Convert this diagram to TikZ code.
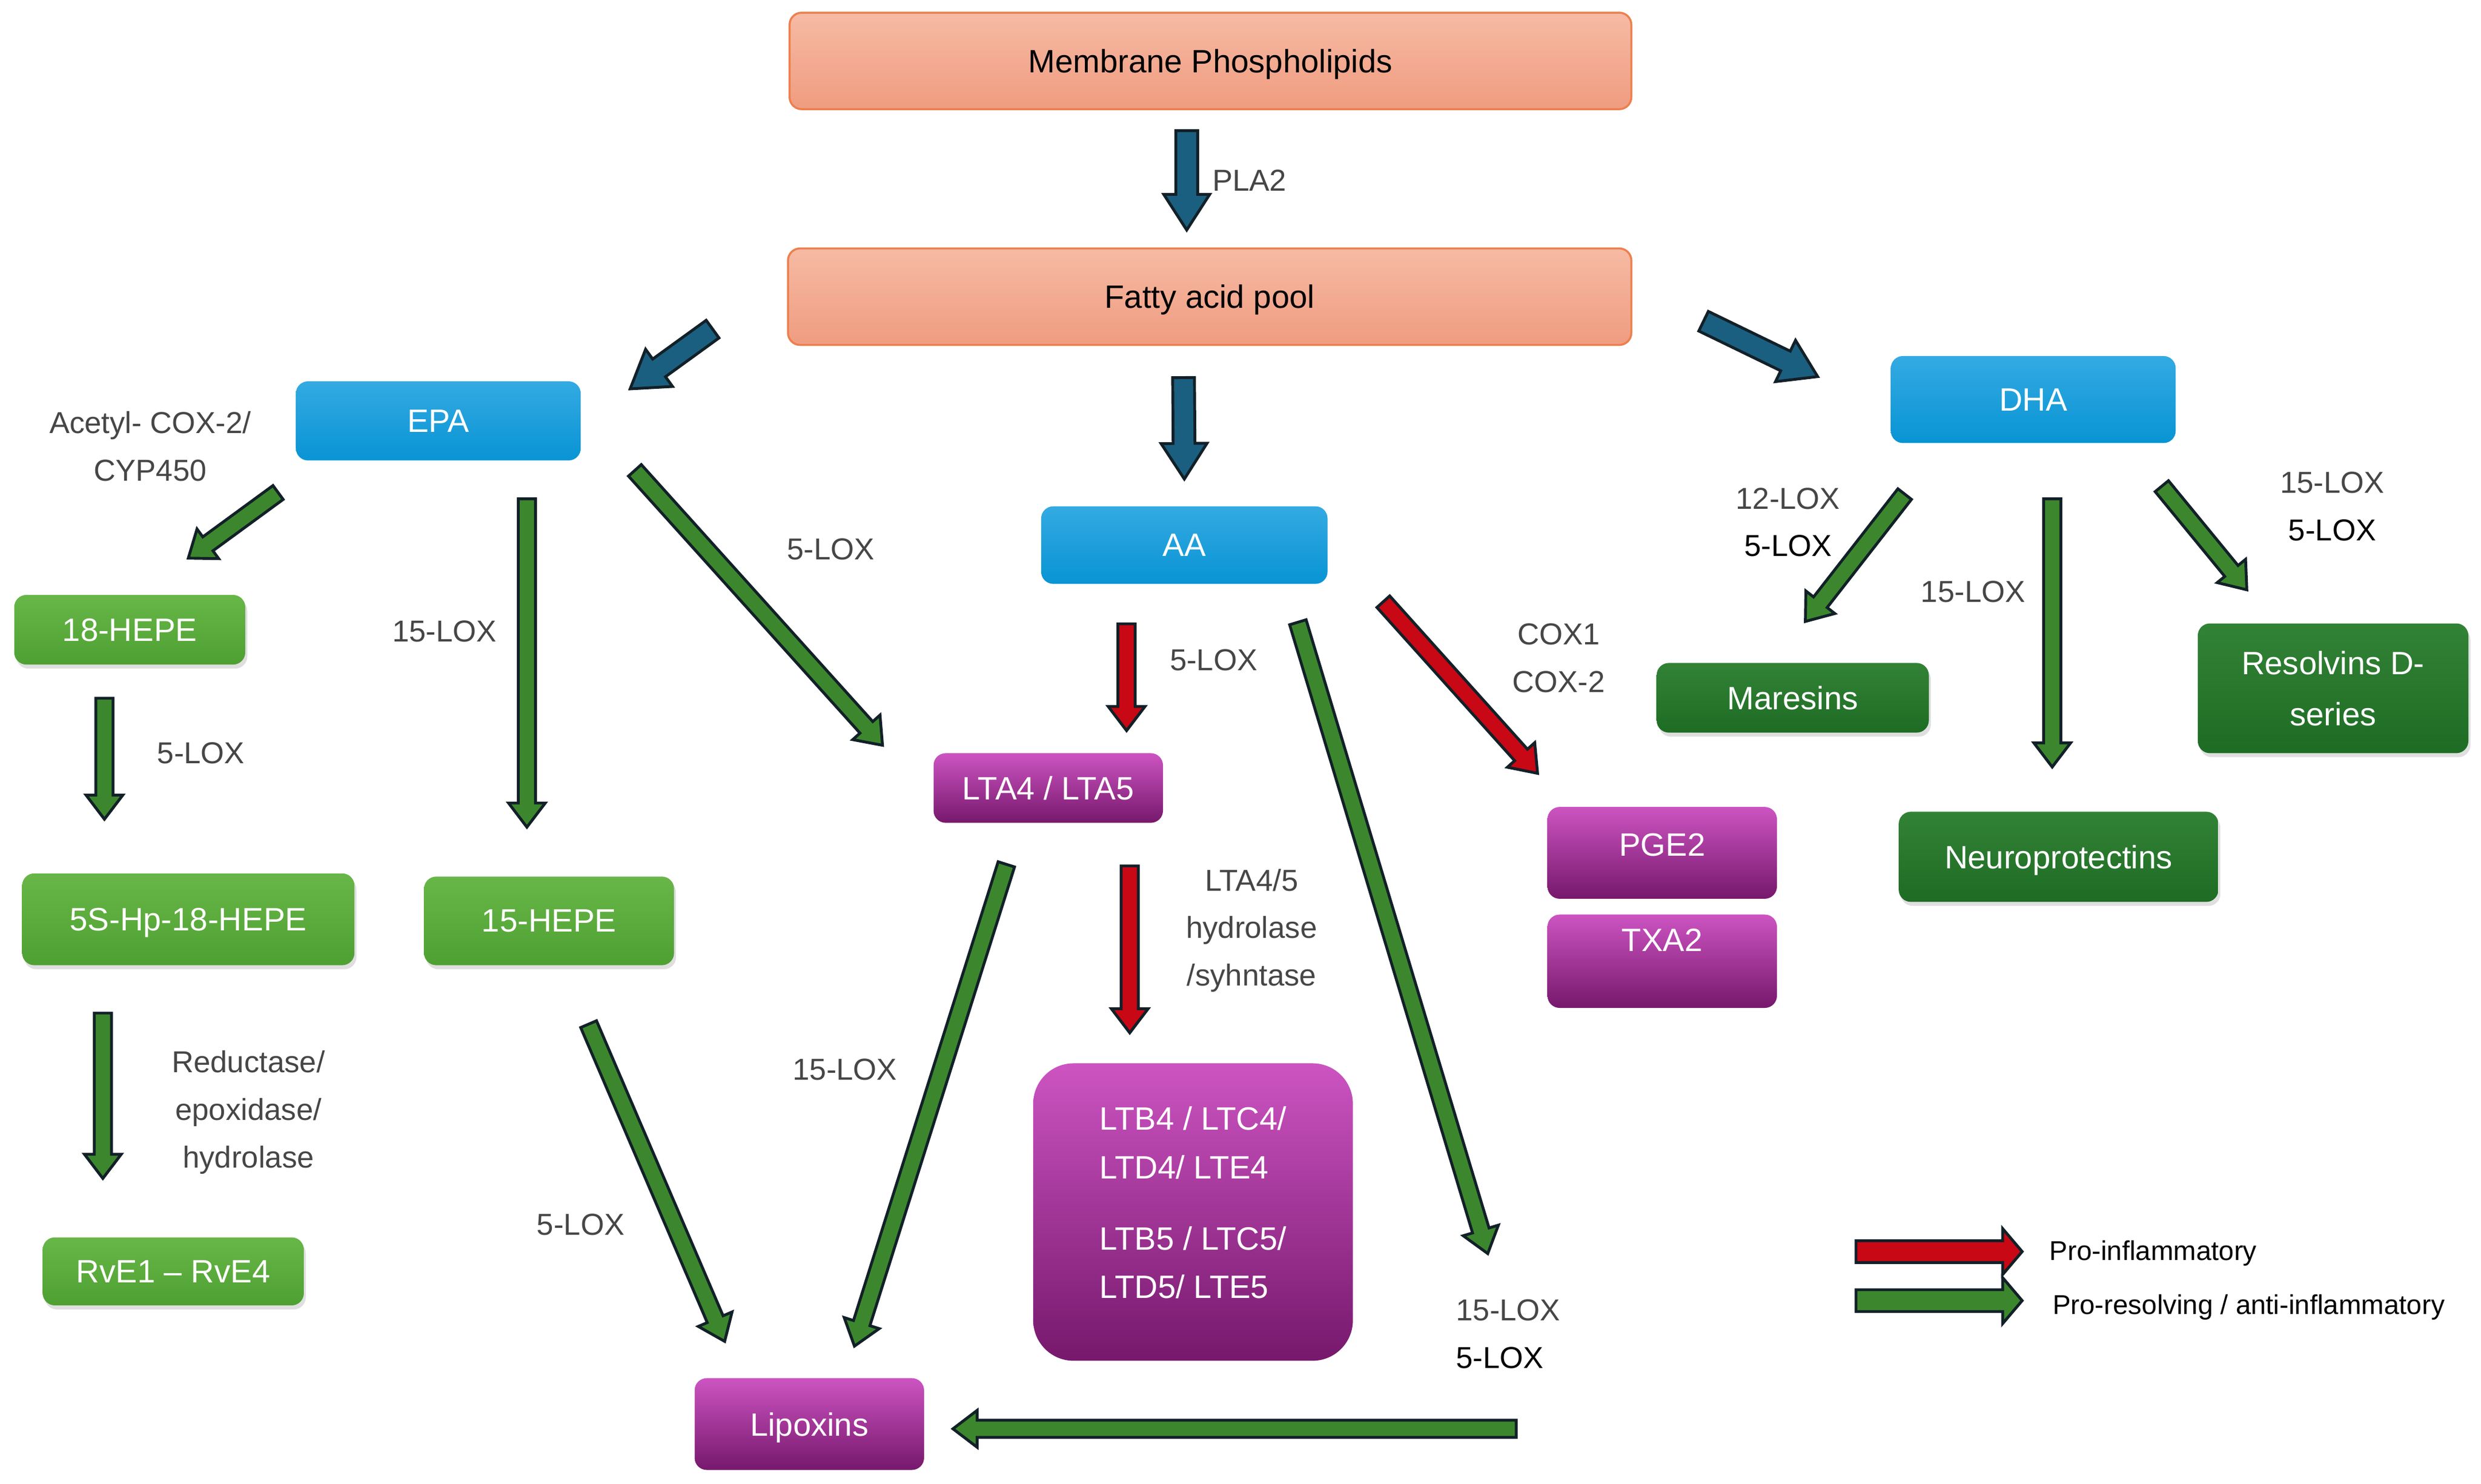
\documentclass[tikz,border=0pt]{standalone}
\usepackage{fontspec}
\setmainfont{Liberation Sans}
\usetikzlibrary{calc,shadows}

\definecolor{salmontop}{RGB}{246,186,164}
\definecolor{salmonbot}{RGB}{240,156,128}
\definecolor{salmonedge}{RGB}{236,128,78}
\definecolor{bluetop}{RGB}{52,170,226}
\definecolor{bluebot}{RGB}{8,148,212}
\definecolor{lgtop}{RGB}{104,182,72}
\definecolor{lgbot}{RGB}{78,160,50}
\definecolor{dgtop}{RGB}{50,130,54}
\definecolor{dgbot}{RGB}{30,108,36}
\definecolor{purtop}{RGB}{204,84,194}
\definecolor{purbot}{RGB}{118,24,108}
\definecolor{labelgray}{RGB}{70,70,70}
\definecolor{arrowedge}{RGB}{18,32,40}
\definecolor{bluefill}{RGB}{27,95,128}
\definecolor{greenfill}{RGB}{60,135,45}
\definecolor{redfill}{RGB}{200,8,20}

\tikzset{
  size/.style 2 args={minimum width=#1*0.02755cm, minimum height=#2*0.02755cm},
  box/.style={rounded corners=6pt, inner sep=0pt, text=white, text depth=0pt,
    font=\fontsize{16}{19}\selectfont},
  lipid/.style={box, draw=salmonedge, line width=1pt, top color=salmontop,
    bottom color=salmonbot, text=black},
  acid/.style={box, top color=bluetop, bottom color=bluebot},
  epabox/.style={box, top color=lgtop, bottom color=lgbot,
    drop shadow={opacity=0.25, shadow xshift=1pt, shadow yshift=-2pt}},
  dhabox/.style={box, top color=dgtop, bottom color=dgbot,
    drop shadow={opacity=0.25, shadow xshift=1pt, shadow yshift=-2pt}},
  lt/.style={box, top color=purtop, bottom color=purbot},
  enz/.style={inner sep=0pt, align=center, text=labelgray,
    font=\fontsize{15}{23.5}\selectfont},
  legend/.style={inner sep=0pt, text=black, font=\fontsize{13.5}{16}\selectfont},
  flowedge/.style={draw=arrowedge, line width=1.4pt, line join=miter}
}

\newcommand{\flowdims}[3]{\def\flowsw{#1}\def\flowhw{#2}\def\flowhl{#3}}
\newcommand{\flow}[3]{%
  \draw[flowedge, fill=#1] let \p1=#2, \p2=#3,
    \n1={atan2(\y2-\y1,\x2-\x1)}, \n2={veclen(\x2-\x1,\y2-\y1)} in
    ($(\p1)+(\n1+90:\flowsw)$)
    -- ($(\p1)+(\n1:\n2-\flowhl)+(\n1+90:\flowsw)$)
    -- ($(\p1)+(\n1:\n2-\flowhl)+(\n1+90:\flowhw)$)
    -- (\p2)
    -- ($(\p1)+(\n1:\n2-\flowhl)+(\n1-90:\flowhw)$)
    -- ($(\p1)+(\n1:\n2-\flowhl)+(\n1-90:\flowsw)$)
    -- ($(\p1)+(\n1-90:\flowsw)$) -- cycle;}

\begin{document}
\begin{tikzpicture}[x=0.02755cm, y=-0.02755cm]
\useasboundingbox (0,0) rectangle (1568,937.6);

\node[lipid, size={532}{61}] (mem) at (765,38.5) {Membrane Phospholipids};
\node[lipid, size={533}{61}] (fap) at (764.5,187.5) {Fatty acid pool};
\node[acid, size={180}{50}] (epa) at (277,266) {EPA};
\node[acid, size={181}{49}] (aa) at (748.5,344.5) {AA};
\node[acid, size={180}{55}] (dha) at (1285,252.5) {DHA};
\node[epabox, size={146}{44}] (hepe18) at (82,398) {18-HEPE};
\node[epabox, size={210}{58}] (hp5s) at (119,581) {5S-Hp-18-HEPE};
\node[epabox, size={158}{56}] (hepe15) at (347,582) {15-HEPE};
\node[epabox, size={165}{43}] (rve) at (109.5,803.5) {RvE1 -- RvE4};
\node[lt, size={145}{44}] (lta) at (662.5,498) {LTA4 / LTA5};
\node[lt, size={202}{188}, rounded corners=20pt, align=left, text depth=0.33cm,
  font=\fontsize{16}{24}\selectfont] (ltb) at (754,766)
  {LTB4 / LTC4/\\LTD4/ LTE4\\[0.4cm]LTB5 / LTC5/\\LTD5/ LTE5};
\node[lt, size={145}{58}, text depth=0.28cm] (pge) at (1050.5,539) {PGE2};
\node[lt, size={145}{59}, text depth=0.74cm] (txa) at (1050.5,607.5) {TXA2};
\node[lt, size={145}{58}] (lipox) at (511.5,900) {Lipoxins};
\node[dhabox, size={172}{44}] (mares) at (1133,441) {Maresins};
\node[dhabox, size={171}{82}, align=center, font=\fontsize{16}{25.5}\selectfont]
  (resolv) at (1474.5,435) {Resolvins D-\\series};
\node[dhabox, size={202}{57}] (neuro) at (1301,541.5) {Neuroprotectins};

\flowdims{0.19cm}{0.40cm}{0.62cm}
\flow{bluefill}{([shift={(-15,13)}]mem.south)}{([shift={(-14.5,-11)}]fap.north)}
\flow{bluefill}{([shift={(-16.5,20)}]fap.south)}{([shift={(0,-17)}]aa.north)}
\flow{bluefill}{([shift={(-47,20.5)}]fap.west)}{([shift={(31,5)}]epa.north east)}
\flow{bluefill}{([shift={(45,15.5)}]fap.east)}{([shift={(-46,-14.5)}]dha.west)}

\flowdims{0.15cm}{0.32cm}{0.42cm}
\flow{greenfill}{([shift={(-11,20)}]epa.south west)}{([shift={(37,-23)}]hepe18.north)}
\flow{greenfill}{([shift={(56,24)}]epa.south)}{([shift={(-14,-31)}]hepe15.north)}
\flow{greenfill}{([shift={(34,6)}]epa.south east)}{([shift={(-32,-27)}]lta.west)}
\flow{greenfill}{([shift={(-16,21)}]hepe18.south)}{([shift={(-53,-34)}]hp5s.north)}
\flow{greenfill}{([shift={(-54,30)}]hp5s.south)}{([shift={(-44.5,-37)}]rve.north)}
\flow{greenfill}{([shift={(25,37)}]hepe15.south)}{([shift={(-53.5,-23)}]lipox.north)}
\flow{greenfill}{([shift={(-26.5,26)}]lta.south)}{([shift={(28.5,-20)}]lipox.north)}
\flow{greenfill}{([shift={(-19,24)}]aa.south east)}{([shift={(85,-68)}]ltb.south east)}
\flow{greenfill}{([shift={(374,3)}]lipox.east)}{([shift={(18,3)}]lipox.east)}
\flow{greenfill}{([shift={(9,32)}]dha.south west)}{([shift={(8,-26)}]mares.north)}
\flow{greenfill}{([shift={(12,35)}]dha.south)}{([shift={(-4,-28)}]neuro.north)}
\flow{greenfill}{([shift={(-9,27)}]dha.south east)}{([shift={(-54.5,-21)}]resolv.north)}

\flow{redfill}{([shift={(-36.5,25)}]aa.south)}{([shift={(49.5,-14)}]lta.north)}
\flow{redfill}{([shift={(51.5,27)}]lta.south)}{([shift={(-40,-19)}]ltb.north)}
\flow{redfill}{([shift={(35,11)}]aa.south east)}{([shift={(-6,-21)}]pge.north west)}

\node[enz, anchor=west] (pla) at (766,114) {PLA2};
\node[enz] (acox) at (95,282) {Acetyl- COX-2/\\CYP450};
\node[enz] (lox15a) at (281,399) {15-LOX};
\node[enz] (lox5a) at (525,347) {5-LOX};
\node[enz] (lox5b) at (127,476) {5-LOX};
\node[enz] (redox) at (157,703) {Reductase/\\epoxidase/\\hydrolase};
\node[enz] (lox5c) at (367,774) {5-LOX};
\node[enz] (lox15b) at (534,676) {15-LOX};
\node[enz] (lox5d) at (767,417) {5-LOX};
\node[enz] (hyd) at (791,588) {LTA4/5\\hydrolase\\/syhntase};
\node[enz] (cox) at (985,416) {COX1\\COX-2};
\node[enz, align=left, anchor=west] (lox15c) at (920,843) {15-LOX\\\textcolor{black}{5-LOX}};
\node[enz] (lox12) at (1130,330) {12-LOX\\\textcolor{black}{5-LOX}};
\node[enz] (lox15d) at (1247,374) {15-LOX};
\node[enz] (lox15e) at (1474,320) {15-LOX\\\textcolor{black}{5-LOX}};

\coordinate (redtail) at (1173,791);
\coordinate (redtip) at (1278,791);
\coordinate (greentail) at (1173,822);
\coordinate (greentip) at (1278,822);
\flowdims{0.19cm}{0.40cm}{0.34cm}
\flow{redfill}{(redtail)}{(redtip)}
\flow{greenfill}{(greentail)}{(greentip)}
\node[legend, anchor=west] (proinf) at (1295,792) {Pro-inflammatory};
\node[legend, anchor=west] (prores) at (1297,826) {Pro-resolving / anti-inflammatory};
\end{tikzpicture}
\end{document}
